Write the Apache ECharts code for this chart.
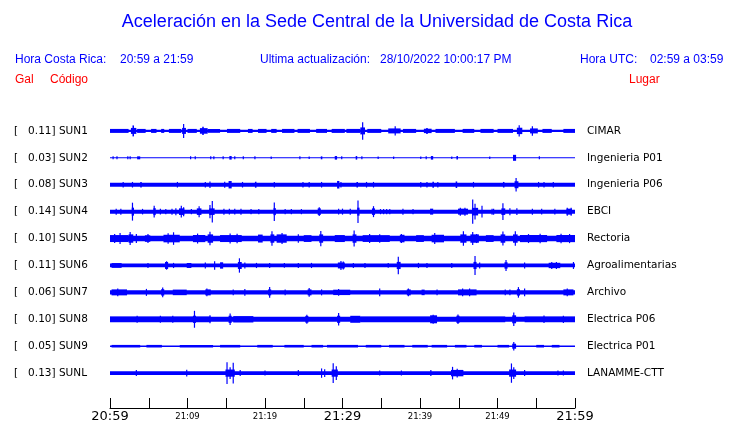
<!DOCTYPE html>
<html><head><meta charset="utf-8">
<script src="https://cdn.jsdelivr.net/npm/echarts@6/dist/echarts.min.js"></script>
<style>html,body{margin:0;padding:0;background:#fff}#c{width:740px;height:423px}</style>
</head><body><div id="c"></div>
<script>
// Station metadata
const codes = ['SUN1','SUN2','SUN3','SUN4','SUN5','SUN6','SUN7','SUN8','SUN9','SUNL'];
const gal = [0.11,0.03,0.08,0.14,0.10,0.11,0.06,0.10,0.05,0.13];
const places = ['CIMAR','Ingenieria P01','Ingenieria P06','EBCI','Rectoria','Agroalimentarias','Archivo','Electrica P06','Electrica P01','LANAMME-CTT'];
// x ticks (minutes after 20:59) and their labels
const tickLabels = {0:'20:59',10:'21:09',20:'21:19',30:'21:29',40:'21:39',50:'21:49',60:'21:59'};
const majorTicks = [0,30,60];
// background half-amplitude of each trace (trace spacing = 27 units)
const baseAmp = [1.2,0.5,2.0,2.0,2.7,1.9,2.2,2.5,0.8,1.8];
// bursts: [start minute, end minute, half-amplitude]
const SUN1 = [[0,2.4,2.0],[2.9,3.1,5.5],[2.7,3.4,3.0],[3.5,4.6,2.0],[5.3,6.0,2.0],[6.6,7.0,2.0],[7.6,9.2,2.0],[9.45,9.55,7.0],[9.3,9.8,3.0],[10.0,11.2,2.0],[11.9,12.1,4.2],[11.6,12.6,2.8],[12.6,14.2,1.9],[15.1,16.8,2.0],[17.8,18.4,2.0],[19.1,20.2,2.0],[20.8,21.5,2.0],[22.2,23.8,2.0],[24.2,25.8,2.0],[26.6,28.0,2.0],[28.6,30.3,2.0],[30.5,32.3,2.0],[32.55,32.65,8.8],[32.3,32.9,3.5],[33.2,35.0,2.0],[36.75,36.85,4.7],[35.9,37.5,2.5],[37.8,39.5,2.0],[40.8,41.0,3.0],[40.5,41.5,2.2],[42.0,44.5,2.0],[45.5,47.0,2.0],[47.8,49.5,2.0],[50.0,52.0,2.0],[52.75,52.85,5.7],[52.5,53.2,3.2],[54.45,54.55,4.8],[54.2,55.2,2.5],[55.8,57.0,2.0],[58.5,60,2.0]];
const SUN2 = [[0.4,0.4,1.5],[0.9,0.9,1.5],[2.3,2.3,1.5],[2.6,2.6,1.5],[3.5,3.9,1.5],[10.4,10.4,1.5],[11.0,11.0,1.5],[13.0,13.0,1.5],[13.4,13.4,1.5],[14.6,14.6,1.5],[15.4,15.7,1.8],[16.1,16.1,1.5],[17.2,17.2,1.5],[18.7,18.7,1.5],[20.8,20.8,1.3],[24.5,24.5,1.5],[25.7,25.7,1.3],[27.2,27.4,1.5],[29.0,29.3,1.8],[29.9,29.9,1.5],[31.7,31.9,1.8],[32.5,32.5,1.5],[34.6,34.6,1.3],[36.6,36.6,1.3],[40.1,40.1,1.3],[40.8,40.8,1.5],[41.4,41.7,1.8],[44.1,44.1,1.3],[44.7,44.9,1.8],[49.0,49.0,1.3],[52.0,52.4,3.0],[55.4,55.4,1.5]];
const SUN3 = [[1.7,1.7,2.8],[2.9,2.9,2.8],[3.9,4.1,2.8],[8.7,8.7,2.8],[12.3,12.3,2.8],[12.9,12.9,3.2],[14.8,14.8,3.0],[15.3,15.7,3.7],[17.1,17.1,2.8],[18.7,18.9,3.0],[21.2,21.2,2.8],[24.9,24.9,2.8],[25.7,25.7,2.8],[27.3,27.3,2.8],[29.3,29.6,3.8],[29.8,29.8,2.8],[31.8,32.0,2.8],[33.1,33.1,2.8],[34.0,34.0,2.8],[40.1,40.1,2.8],[40.9,40.9,2.8],[41.6,41.8,3.0],[42.3,42.3,2.8],[44.6,44.8,3.3],[46.9,46.9,2.8],[50.7,50.9,2.8],[52.4,52.4,6.7],[52.2,52.7,3.5],[55.3,55.3,2.8],[56.0,56.0,2.8],[57.2,57.2,2.8]];
const SUN4 = [[0.8,0.8,3],[1.4,1.4,3],[2.9,2.9,9],[2.8,3.1,4],[4.2,4.2,2.8],[5.7,5.7,5.8],[5.6,5.9,3.5],[6.5,6.5,2.8],[7.2,7.2,2.6],[8.0,8.0,3],[8.5,8.5,3.5],[8.9,9.6,3.3],[9.2,9.2,5.8],[9.5,9.5,4.5],[10.5,10.5,2.6],[11.2,11.8,3.3],[11.5,11.5,5.5],[12.9,12.9,6.7],[13.2,13.2,10.8],[12.8,13.5,3.3],[14.7,14.7,3],[15.4,15.4,2.8],[16.1,16.1,2.8],[16.9,16.9,3],[18.2,18.2,2.6],[19.2,19.2,2.6],[21.2,21.2,9.3],[21.1,21.4,3.5],[22.6,22.6,2.6],[23.4,23.4,2.6],[24.7,24.7,2.6],[26.8,27.2,3.3],[27.0,27.0,4.3],[29.5,29.5,2.8],[30.0,30.0,3],[31.0,31.0,3],[32.0,32.0,11.3],[31.9,32.2,4],[34.0,34.0,5.5],[33.8,34.2,3.3],[34.9,34.9,2.6],[35.3,35.3,2.6],[35.7,35.7,2.6],[36.1,36.1,2.6],[37.8,37.8,3],[39.1,39.1,2.6],[41.3,41.7,3],[44.9,46.2,3.0],[45.2,45.2,4],[45.8,45.8,4],[46.8,46.8,12.2],[47.1,47.1,8],[46.7,47.5,3.8],[48.0,48.0,5.8],[49.3,49.3,3],[49.5,49.5,3],[50.7,50.7,8.5],[50.5,51.0,3.3],[51.6,51.6,3.5],[52.5,52.5,3.3],[54.5,54.5,3],[55.7,55.7,2.8],[57.4,57.4,2.8],[58.9,59.6,3.0],[59.0,59.0,4],[59.5,59.5,4]];
const SUN5 = [[0,2.4,3.5],[1.3,1.3,5.5],[0.6,0.6,4.5],[2.6,2.6,6.5],[2.4,3.0,4.2],[3.4,3.4,4.5],[4.9,4.9,4.5],[4.5,5.2,3.3],[6.9,9.0,3.8],[8.2,8.2,6.3],[7.5,7.5,5.2],[10.7,12.3,3.6],[11.3,11.3,5],[12.9,12.9,6.8],[12.6,13.3,4.2],[14.2,17.0,3.5],[15.5,15.5,5],[16.4,16.4,4.8],[19.1,19.7,4.0],[20.9,20.9,7.3],[20.7,21.2,4.2],[21.5,22.8,4.2],[22.2,22.2,5.5],[24.3,24.3,4.2],[25.0,26.0,3.4],[27.2,27.2,7.7],[27.0,27.5,4.2],[29.0,30.3,3.5],[31.5,31.5,8],[31.3,31.8,4.2],[32.6,36.1,3.4],[33.5,33.5,4.5],[34.8,34.8,4.2],[37.6,37.6,4.5],[37.4,38.0,3.8],[39.5,40.5,3.4],[41.9,41.9,5.5],[41.5,43.1,3.8],[45.6,45.6,7.3],[45.2,46.0,4.2],[46.8,46.8,6.5],[47.3,47.3,4.5],[46.5,47.6,4.2],[48.5,49.5,3.4],[50.7,50.7,7],[50.4,51.0,4.2],[52.3,52.3,7.3],[52.0,52.6,4.2],[52.9,56.4,3.6],[54.0,54.0,4.5],[55.5,55.5,4.8],[57.6,60,3.6],[58.2,58.2,4.8],[59.3,59.3,4.6]];
const SUN6 = [[0.2,1.5,2.4],[4.9,4.9,2.6],[7.1,7.5,3.5],[7.3,7.3,4.2],[8.2,8.2,2.6],[9.9,10.5,2.5],[12.3,12.3,3],[13.5,13.5,4.3],[14.2,14.6,3.2],[16.7,16.7,7.2],[16.5,17.0,3.5],[17.4,17.4,3],[18.9,18.9,2.6],[20.6,20.6,2.6],[22.5,22.5,2.4],[24.3,24.3,2.6],[26.0,26.0,2.6],[29.4,30.3,3.0],[29.8,29.8,4.5],[30.1,30.1,4],[31.4,31.4,2.6],[32.9,32.9,2.6],[35.9,35.9,2.4],[37.2,37.2,8.7],[37.0,37.5,3.6],[39.8,39.8,2.6],[40.9,40.9,2.6],[44.1,44.1,2.6],[47.1,47.1,9.5],[46.9,47.3,3.6],[47.7,47.7,3],[51.1,51.1,5.5],[50.9,51.3,3.2],[53.5,53.5,3],[56.6,58.1,2.7],[57.0,57.0,3.5],[57.6,57.6,3.5],[59.8,59.8,3.5]];
const SUN7 = [[0.2,2.2,3.0],[1.0,1.0,4],[4.7,4.7,3.5],[6.8,6.8,4.8],[6.6,7.0,3.2],[8.1,9.9,2.8],[12.3,13.0,3.0],[12.5,12.5,3.8],[15.9,15.9,3],[17.4,17.4,3.5],[20.6,20.6,5.3],[20.4,20.8,3.0],[22.6,22.6,3],[25.5,26.0,3.0],[25.7,25.7,4.3],[27.3,27.3,3],[28.8,31.0,2.7],[29.5,29.5,3.5],[34.8,34.8,4],[38.5,38.5,4],[38.3,38.8,3.0],[40.2,40.6,2.8],[42.2,42.2,3],[44.9,47.3,3.0],[45.5,45.5,4],[46.4,46.4,4],[51.0,51.0,3],[51.6,51.6,3],[52.7,52.7,5.3],[52.5,52.9,3.2],[53.5,53.5,4],[58.5,59.8,3.0],[59.0,59.0,3.8]];
const SUN8 = [[0,13.0,2.9],[3.5,3.5,3.5],[6.5,6.5,3.5],[8.1,8.1,3.5],[10.9,10.9,8.5],[10.7,11.1,3.6],[12.9,12.9,4],[15.5,15.5,5.8],[15.3,15.7,3.6],[15.9,18.5,3.2],[25.4,25.4,4.5],[25.2,25.6,3.4],[29.5,29.5,6.3],[29.3,29.7,3.6],[31.0,32.3,3.5],[32.3,41.3,2.9],[41.3,42.2,4.0],[41.7,41.7,4.5],[44.9,44.9,4.8],[44.7,45.1,3.6],[45.0,51.0,2.9],[52.1,52.1,6.7],[51.9,52.4,4.0],[53.5,60,2.9],[56.0,56.0,3.8],[58.5,58.5,3.6]];
const SUN9 = [[0.2,3.9,1.3],[4.7,6.7,1.3],[9.0,13.3,1.3],[14.2,16.8,1.3],[19.0,21.0,1.3],[22.5,25.0,1.3],[26.0,27.5,1.3],[28.0,32.0,1.3],[33.0,35.0,1.3],[36.0,38.0,1.3],[39.0,41.0,1.3],[41.5,43.5,1.3],[44.5,46.0,1.3],[47.0,48.0,1.3],[50.0,51.5,1.3],[52.1,52.1,4.2],[51.9,52.4,2.5],[55.0,56.0,1.3],[57.0,58.0,1.3]];
const SUNL = [[3.4,3.4,3],[9.9,9.9,3.5],[15.1,15.1,10.8],[15.9,15.9,10.3],[15.5,15.5,6],[14.9,16.1,3.6],[16.8,16.8,3],[20.0,20.0,2.5],[24.3,24.3,3],[27.3,27.3,4.7],[27.7,27.7,4],[28.8,28.8,10],[29.2,29.2,7],[28.6,29.4,3.6],[34.8,34.8,2.5],[37.6,37.6,2.5],[41.4,41.4,3],[44.2,44.2,6.3],[44.8,44.8,4.5],[45.4,45.4,3],[44.0,45.6,3.2],[51.8,51.8,9.7],[52.1,52.1,6],[51.5,52.4,3.6],[53.5,53.5,3],[57.8,57.8,2.5],[58.5,58.5,2.5]];
const bursts = [SUN1,SUN2,SUN3,SUN4,SUN5,SUN6,SUN7,SUN8,SUN9,SUNL];

const BLUE = '#0000ff', RED = '#ff0000';
const SPACING = 27;
const chart = echarts.init(document.getElementById('c'), null, {renderer:'canvas'});

function makeRender(idx){
  const c = idx * SPACING;
  return function(params, api){
    const s = api.value(0), e = api.value(1), a = api.value(2);
    const p1 = api.coord([s, c - a]), p2 = api.coord([e, c + a]);
    let x1 = p1[0], x2 = p2[0];
    if (x2 - x1 < 1.2) { const m = (x1 + x2) / 2; x1 = m - 0.6; x2 = m + 0.6; }
    const y1 = Math.min(p1[1], p2[1]), y2 = Math.max(p1[1], p2[1]);
    return {type:'rect', shape:{x:x1, y:y1, width:x2-x1, height:Math.max(y2-y1,1)}, style:{fill:BLUE}};
  };
}

const series = codes.map((code, i) => ({
  type:'custom', name: code, silent:true, animation:false,
  renderItem: makeRender(i),
  encode:{x:[0,1], y:2},
  data: [[0, 60, baseAmp[i]]].concat(bursts[i])
}));

const hdrFont = '"Liberation Sans", Arial, sans-serif';
function txt(x, y, s, color, size, align){
  return {type:'text', x:x, y:y, silent:true, style:{text:s, fill:color, font:size+'px '+hdrFont, textAlign:align||'left', textVerticalAlign:'middle'}};
}

chart.setOption({
  animation:false,
  grid:{left:110, right:165, top:104, bottom:14},
  xAxis:{type:'value', min:0, max:60, interval:5, position:'bottom',
    axisLine:{onZero:false, lineStyle:{color:'#000', width:1}},
    axisTick:{inside:true, length:10, lineStyle:{color:'#000'}},
    splitLine:{show:false},
    axisLabel:{margin:1, color:'#000', fontFamily:'DejaVu Sans',
      formatter: v => tickLabels[v] ? (majorTicks.includes(v) ? '{b|'+tickLabels[v]+'}' : '{s|'+tickLabels[v]+'}') : '',
      rich:{b:{fontSize:13, lineHeight:15, fontFamily:'DejaVu Sans', color:'#000'}, s:{fontSize:8.5, lineHeight:15, fontFamily:'DejaVu Sans', color:'#000'}}}
  },
  yAxis:[
    {type:'value', min:-27, max:278, interval:27, inverse:true, position:'left',
     axisLine:{show:false}, axisTick:{show:false}, splitLine:{show:false},
     axisLabel:{margin:96, align:'left', color:'#000', fontFamily:'DejaVu Sans', fontSize:10.5,
       formatter: v => { const i = Math.round(v / SPACING); return (v >= 0 && i < codes.length && Math.abs(v - i*SPACING) < 0.01) ? '[   ' + gal[i].toFixed(2) + '] ' + codes[i] : ''; }}},
    {type:'value', min:-27, max:278, interval:27, inverse:true, position:'right',
     axisLine:{show:false}, axisTick:{show:false}, splitLine:{show:false},
     axisLabel:{margin:12, align:'left', color:'#000', fontFamily:'DejaVu Sans', fontSize:10.5,
       formatter: v => { const i = Math.round(v / SPACING); return (v >= 0 && i < places.length && Math.abs(v - i*SPACING) < 0.01) ? places[i] : ''; }}}
  ],
  graphic:[
    txt(377, 22, 'Aceleración en la Sede Central de la Universidad de Costa Rica', BLUE, 18, 'center'),
    txt(15, 60, 'Hora Costa Rica:', BLUE, 12),
    txt(120, 60, '20:59 a 21:59', BLUE, 12),
    txt(260, 60, 'Ultima actualización:', BLUE, 12),
    txt(380, 60, '28/10/2022 10:00:17 PM', BLUE, 12),
    txt(580, 60, 'Hora UTC:', BLUE, 12),
    txt(650, 60, '02:59 a 03:59', BLUE, 12),
    txt(15, 80, 'Gal', RED, 12),
    txt(50, 80, 'Código', RED, 12),
    txt(629, 80, 'Lugar', RED, 12)
  ],
  series: series
});
</script></body></html>
